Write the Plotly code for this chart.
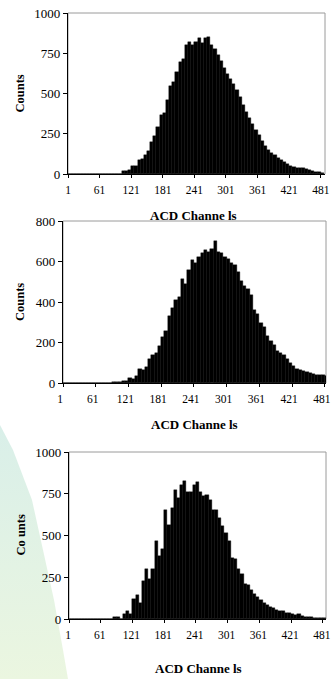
import plotly.graph_objects as go

# ---- data (bins of 6 ADC channels, starting channel listed) ----
channels = list(range(1, 482, 6))
tick_vals = [1, 61, 121, 181, 241, 301, 361, 421, 481]
tick_text = ["1", "61", "121", "181", "241", "301", "361", "421", "481"]

counts_a = [0] * 17 + [20, 20, 25, 50, 52, 87, 95, 118, 140, 200, 236, 294, 366, 377, 460,
                       546, 573, 635, 698, 712, 800, 822, 800, 822, 845, 811, 843, 849, 800, 775,
                       740, 700, 660, 620, 590, 560, 520, 480, 430, 385, 345, 310, 275, 240, 205,
                       175, 150, 130, 118, 100, 88, 75, 65, 52, 44, 38, 36, 38, 30, 22,
                       18, 14, 10, 8]
counts_b = [0] * 15 + [5, 3, 6, 8, 11, 24, 20, 33, 70, 65, 81, 120, 140, 150, 185,
                       225, 255, 330, 370, 410, 425, 512, 488, 560, 605, 595, 620, 642, 659, 645,
                       660, 699, 648, 642, 622, 610, 593, 585, 550, 505, 480, 465, 435, 360, 342,
                       295, 278, 230, 205, 188, 160, 150, 140, 118, 100, 85, 70, 65, 58, 52,
                       50, 46, 40, 38, 40, 33]
counts_c = [0] * 14 + [10, 10, 3, 30, 50, 30, 120, 142, 93, 230, 300, 240, 300, 467, 380,
                       420, 654, 560, 664, 772, 725, 802, 825, 760, 760, 800, 821, 760, 735, 740,
                       713, 650, 654, 605, 556, 516, 467, 368, 359, 299, 270, 211, 201, 171, 152,
                       132, 116, 93, 83, 73, 63, 55, 50, 45, 38, 33, 30, 26, 30, 18,
                       14, 14, 10, 8, 6, 6, 4]

y_ticks_a = [0, 250, 500, 750, 1000]
y_ticks_b = [0, 200, 400, 600, 800]
y_ticks_c = [0, 250, 500, 750, 1000]

x_title = "ACD Channe ls"
y_titles = ["Counts", "Counts", "Co unts"]

# decorative background wedge outline (page pixels)
wedge_x = [0, 13, 32, 43, 54, 63, 68, 0, 0]
wedge_y = [425, 450, 500, 550, 600, 650, 679, 679, 425]

# ---- layout geometry (pixels) ----
W, H = 331, 679
panels = [
    dict(l=68, r=325, t=13, b=174, xmax=489, data=counts_a, yt=y_ticks_a, ymax=1000, xt_y=215, xt_x=193, shift=0),
    dict(l=63, r=326, t=221, b=383, xmax=483, data=counts_b, yt=y_ticks_b, ymax=800, xt_y=424, xt_x=194, shift=-3),
    dict(l=69, r=326, t=452, b=619, xmax=487, data=counts_c, yt=y_ticks_c, ymax=1000, xt_y=668, xt_x=198, shift=-1),
]

SERIF = "Liberation Serif, Times New Roman, serif"

fig = go.Figure()
layout = dict(
    width=W, height=H, autosize=False,
    margin=dict(l=0, r=0, t=0, b=0, pad=0),
    paper_bgcolor="white", plot_bgcolor="rgba(0,0,0,0)",
    showlegend=False, bargap=0,
    font=dict(family=SERIF, color="black"),
    shapes=[], annotations=[],
)

# background overlay subplot (full page, pixel coordinates) with gradient wedge
fig.add_trace(go.Scatter(
    x=wedge_x, y=wedge_y, mode="none", fill="toself",
    fillgradient=dict(type="vertical", colorscale=[[0, "#ebf6e0"], [1, "#d9efe9"]]),
    xaxis="x", yaxis="y", hoverinfo="skip",
))
layout["xaxis"] = dict(domain=[0, 1], range=[0, W], visible=False, fixedrange=True)
layout["yaxis"] = dict(domain=[0, 1], range=[H, 0], visible=False, fixedrange=True)

for i, p in enumerate(panels):
    n = str(i + 2)
    xa, ya = "x" + n, "y" + n
    fig.add_trace(go.Bar(
        x=channels, y=p["data"], width=6, offset=0,
        marker=dict(color="#000000", line=dict(color="#000000", width=0.4)),
        xaxis=xa, yaxis=ya, hoverinfo="skip",
    ))
    layout["xaxis" + n] = dict(
        domain=[p["l"] / W, p["r"] / W], anchor=ya, range=[1, p["xmax"]],
        tickmode="array", tickvals=tick_vals, ticktext=tick_text,
        showline=True, linecolor="black", linewidth=1.2,
        ticks="outside", ticklen=3, tickcolor="black", tickwidth=1,
        showgrid=False, zeroline=False, ticklabelstandoff=2, automargin=False,
        ticklabeloverflow="allow", ticklabelshift=p["shift"],
        tickfont=dict(family=SERIF, size=11.5, color="black"),
    )
    layout["yaxis" + n] = dict(
        domain=[1 - p["b"] / H, 1 - p["t"] / H], anchor=xa, range=[0, p["ymax"]],
        tickmode="array", tickvals=p["yt"],
        showline=True, linecolor="black", linewidth=1.2,
        ticks="outside", ticklen=4, tickcolor="black", tickwidth=1,
        showgrid=False, zeroline=False, automargin=False,
        ticklabeloverflow="allow",
        tickfont=dict(family=SERIF, size=13, color="black"),
    )
    layout["shapes"].append(dict(type="rect", xref=xa + " domain", yref=ya + " domain",
                                 x0=0, x1=1, y0=0, y1=1,
                                 line=dict(color="#9a9a9a", width=1), layer="below"))
    layout["annotations"].append(dict(
        text=f"<b>{x_title}</b>", xref="paper", yref="paper",
        x=p["xt_x"] / W, y=1 - p["xt_y"] / H, showarrow=False,
        xanchor="center", yanchor="middle",
        font=dict(family=SERIF, size=13, color="black")))
    layout["annotations"].append(dict(
        text=f"<b>{y_titles[i]}</b>", xref="paper", yref="paper",
        x=20 / W, y=1 - (p["t"] + p["b"]) / 2 / H, showarrow=False, textangle=-90,
        xanchor="center", yanchor="middle",
        font=dict(family=SERIF, size=12.5, color="black")))

fig.update_layout(**layout)
fig.write_html(
    "out.html",
    config={"displayModeBar": False, "responsive": False},
    post_script="document.body.style.margin='0';",
)
